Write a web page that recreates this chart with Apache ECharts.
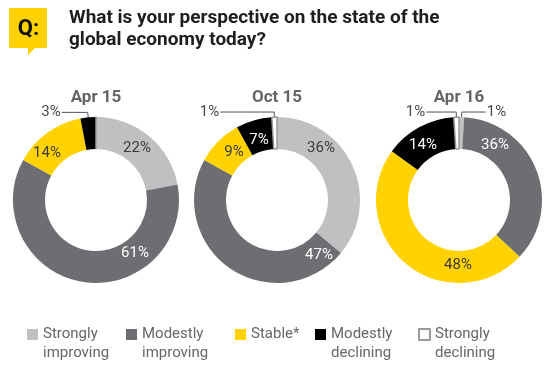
<!DOCTYPE html>
<html><head><meta charset="utf-8">
<script src="https://cdn.jsdelivr.net/npm/echarts@6/dist/echarts.min.js"></script>
<style>html,body{margin:0;padding:0;background:#fff}#c{width:554px;height:365px}</style>
</head><body><div id="c"></div>
<script>
// ---- data ----
const categories = ['Strongly improving', 'Modestly improving', 'Stable*', 'Modestly declining', 'Strongly declining'];
const periods = ['Apr 15', 'Oct 15', 'Apr 16'];
const apr15 = [22, 61, 14, 3, 0];
const oct15 = [36, 47, 9, 7, 1];
const apr16 = [1, 36, 48, 14, 1];
const questionText = 'What is your perspective on the state of the\nglobal economy today?';

// ---- styles / layout ----
const FONT = "Roboto, 'DejaVu Sans Condensed', sans-serif";
const colors = ['#bfc0c2', '#6d6e71', '#ffd200', '#000000', '#ffffff'];
const insideText = ['#3c3c3c', '#ffffff', '#3c3c3c', '#ffffff', '#3c3c3c'];
const centers = [[96, 200], [277, 200], [459, 200]];
const radius = [51, 83];
// label offsets from donut centre (inside labels)
const labelOffsets = [
  [[41, -52], [39, 53], [-49, -47], null, null],
  [[44, -52], [42, 55], [-43, -48], [-18, -60], null],
  [null, [36, -55], [-1, 65], [-36, -55], null]
];
// outside label line lengths
const lineLen2 = [
  [0, 0, 0, 26, 0],
  [0, 0, 0, 0, 54],
  [24, 0, 0, 0, 30]
];
const allValues = [apr15, oct15, apr16];

const series = allValues.map((vals, si) => ({
  type: 'pie',
  center: centers[si],
  radius: radius,
  startAngle: 90,
  clockwise: true,
  avoidLabelOverlap: false,
  silent: true,
  label: { fontFamily: FONT, fontSize: 15 },
  labelLayout: function (p) {
    const off = labelOffsets[si][p.dataIndex];
    if (!off) return {};
    return { x: centers[si][0] + off[0], y: centers[si][1] + off[1], align: 'center', verticalAlign: 'middle' };
  },
  data: vals.map((v, i) => {
    const outside = v > 0 && v <= 3;
    return {
      name: categories[i],
      value: v,
      itemStyle: i === 4 ? { color: colors[i], borderColor: '#9a9a9a', borderWidth: 1.5 } : { color: colors[i], borderWidth: 0 },
      label: {
        show: v > 0,
        position: outside ? 'outside' : 'inside',
        formatter: '{c}%',
        color: outside ? '#4a4a4a' : insideText[i],
        fontSize: 15,
        fontFamily: FONT,
        distanceToLabelLine: 1
      },
      labelLine: { show: outside, length: 5, length2: lineLen2[si][i], smooth: false, lineStyle: { color: '#555', width: 1 } }
    };
  })
}));

const legendLefts = [27, 126, 235, 315, 418];
const legends = categories.map((c, i) => ({
  data: [c],
  left: legendLefts[i],
  top: 306,
  padding: 0,
  orient: 'horizontal',
  itemWidth: 11,
  itemHeight: 11,
  selectedMode: false,
  icon: 'rect',
  // leading empty line keeps the first text line level with the icon
  formatter: n => '\n' + n.replace(' ', '\n') + (n.indexOf(' ') < 0 ? '\n' : ''),
  textStyle: { fontFamily: FONT, fontSize: 15, lineHeight: 19, color: '#666' }
}));

const titles = [{
  text: questionText,
  left: 64, top: 2,
  textStyle: { fontFamily: FONT, fontSize: 19, lineHeight: 22, fontWeight: 'bold', color: '#1e1e1e' }
}].concat(periods.map((p, i) => ({
  text: p,
  left: centers[i][0], top: 89,
  padding: 0,
  textAlign: 'center',
  textStyle: { fontFamily: FONT, fontSize: 17, fontWeight: 'bold', color: '#646469' }
})));

const chart = echarts.init(document.getElementById('c'), null, { renderer: 'canvas' });
chart.setOption({
  animation: false,
  backgroundColor: '#ffffff',
  title: titles,
  legend: legends,
  graphic: [
    { type: 'polygon', shape: { points: [[9, 8], [47, 8], [47, 48], [35, 48], [28, 55], [28, 48], [9, 48]] }, style: { fill: '#ffd200' } },
    { type: 'text', style: { x: 28.5, y: 29.5, text: 'Q:', align: 'center', verticalAlign: 'middle', font: "bold 22px " + FONT, fill: '#111' } }
  ],
  series: series
});
</script>
</body></html>
